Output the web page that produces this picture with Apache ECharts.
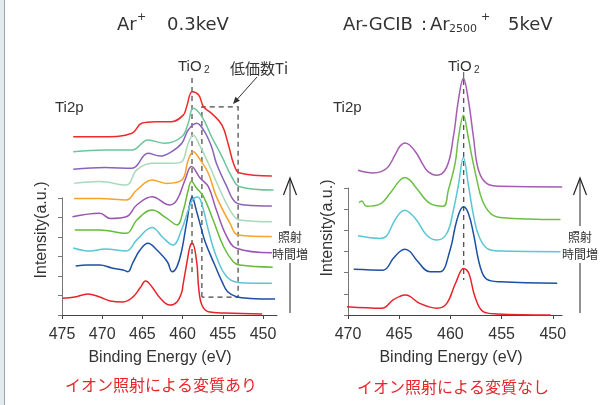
<!DOCTYPE html>
<html>
<head>
<meta charset="utf-8">
<script src="https://cdn.jsdelivr.net/npm/echarts@6/dist/echarts.min.js"></script>
<style>
html, body { margin: 0; padding: 0; background: #fff; }
#chart { width: 604px; height: 405px; }
</style>
</head>
<body>
<div id="chart"></div>
<script>
// tick labels
var leftTicks = [450, 455, 460, 465, 470, 475];
var rightTicks = [450, 455, 460, 465, 470];

// Ar+ 0.3keV : spectra from bottom (t0) to top (t9), [binding energy, intensity]
var ar_t0 = [[474.9,0.86],[473.4,0.92],[471.8,1.08],[470.3,0.92],[469.0,0.72],[467.4,0.67],[466.2,0.92],[465.3,1.38],[464.6,1.74],[463.8,1.44],[462.8,0.87],[461.6,0.51],[460.7,0.67],[460.1,1.18],[459.95,1.54],[459.45,2.72],[459.1,3.49],[458.8,3.69],[458.25,2.73],[458.0,1.38],[457.6,0.51],[456.8,0.17],[454.7,0.10],[450.1,0.05]];
var ar_t1 = [[473.3,2.51],[471.8,2.56],[470.3,2.56],[468.8,2.41],[467.4,2.31],[466.8,2.22],[466.2,2.67],[465.3,3.33],[464.3,3.68],[463.2,3.33],[461.9,2.73],[461.3,2.22],[460.7,2.48],[460.1,3.33],[459.5,4.72],[458.8,6.05],[458.3,5.38],[457.8,4.62],[457.2,3.76],[456.0,2.56],[455.1,1.71],[454.4,1.19],[453.3,0.94],[451.6,0.85],[448.5,0.82]];
var ar_t2 = [[473.6,3.44],[471.5,3.28],[469.65,3.38],[467.0,3.28],[465.7,3.85],[463.8,4.49],[462.4,3.95],[461.2,3.59],[460.1,4.41],[459.3,5.38],[458.7,5.95],[458.1,6.05],[457.5,5.54],[456.8,4.36],[455.8,2.99],[454.5,1.96],[452.9,1.66],[448.9,1.63]];
var ar_t3 = [[473.4,4.36],[470.3,4.36],[467.0,4.19],[465.7,4.87],[463.8,5.38],[462.0,4.97],[460.7,4.62],[459.9,5.38],[459.3,6.41],[458.9,6.84],[458.25,6.50],[457.4,6.07],[456.2,4.87],[454.9,3.50],[453.7,2.73],[452.9,2.56],[448.8,2.45]];
var ar_t4 = [[473.7,5.04],[470.3,5.22],[469.0,4.95],[467.0,5.04],[465.7,5.64],[463.8,6.07],[461.6,5.64],[460.7,5.90],[459.7,6.92],[458.9,7.61],[457.8,7.01],[456.8,6.58],[455.8,5.38],[454.5,4.02],[453.3,3.42],[448.9,3.19]];
var ar_t5 = [[473.5,5.98],[470.3,5.98],[467.0,5.90],[465.7,6.41],[463.8,6.92],[462.0,6.75],[460.1,6.92],[459.3,7.95],[458.7,8.37],[457.8,7.95],[456.8,7.27],[455.8,6.07],[454.1,4.70],[453.1,4.10],[448.9,4.02]];
var ar_t6 = [[473.5,6.75],[470.3,6.84],[467.0,6.67],[465.7,7.44],[463.8,7.78],[461.2,7.78],[460.1,7.86],[459.3,8.81],[458.7,9.23],[457.8,8.63],[456.8,7.78],[455.35,6.41],[454.1,5.38],[452.9,4.87],[448.9,4.78]];
var ar_t7 = [[473.6,7.47],[469.65,7.57],[466.3,7.52],[464.3,8.29],[462.8,8.15],[461.4,8.37],[460.1,8.81],[459.3,9.49],[458.25,9.83],[457.4,9.49],[456.4,8.63],[455.8,7.78],[454.5,6.58],[453.5,5.81],[452.2,5.64],[448.9,5.59]];
var ar_t8 = [[473.6,8.37],[469.65,8.46],[466.3,8.46],[464.3,8.97],[462.2,8.81],[460.1,9.14],[459.3,9.83],[458.7,10.60],[457.6,10.17],[456.4,9.14],[455.1,8.12],[453.9,7.09],[452.9,6.58],[448.7,6.41]];
var ar_t9 = [[473.6,9.14],[469.65,9.14],[466.3,9.32],[465.1,9.83],[463.4,9.91],[461.4,9.91],[459.9,10.26],[459.5,10.68],[458.8,11.45],[458.0,11.28],[457.4,10.68],[456.4,10.34],[455.1,9.74],[454.3,8.72],[453.6,7.69],[452.9,7.28],[448.9,7.13]];
var leftColors = ['#e8232a', '#1d4fa3', '#5ac6d6', '#66bb3a', '#9a55b0', '#f7a22b', '#a9d9b9', '#8a62b8', '#6cc59a', '#ee2a2a'];

// Ar-GCIB 5keV : spectra from bottom to top
var gc_t0 = [[470.1,0.39],[466.7,0.32],[465.6,0.71],[464.93,0.88],[464.44,0.94],[463.95,0.88],[463.0,0.55],[461.3,0.32],[460.35,0.55],[459.5,1.50],[458.7,2.20],[458.2,1.97],[457.6,0.86],[456.8,0.16],[455.45,0.05],[450.2,0.0]];
var gc_t1 = [[469.44,2.16],[466.57,2.12],[465.59,2.67],[464.93,3.00],[464.44,3.11],[463.95,3.00],[463.29,2.59],[461.99,2.04],[461.01,2.04],[460.03,3.07],[459.37,4.48],[458.73,5.11],[458.24,4.80],[457.75,3.85],[457.09,2.28],[456.43,1.68],[455.13,1.57],[449.57,1.50]];
var gc_t2 = [[469.02,3.74],[466.89,3.62],[466.24,3.73],[465.59,4.33],[464.93,4.82],[464.44,4.95],[463.95,4.82],[463.29,4.48],[462.31,3.77],[461.33,3.54],[460.35,3.85],[459.71,4.95],[459.22,6.13],[458.73,7.44],[458.24,6.13],[457.75,4.72],[457.25,3.77],[456.43,3.15],[455.13,3.02],[449.25,2.99]];
var gc_t3 = [[468.92,5.30],[468.66,5.38],[468.20,5.14],[466.89,5.24],[465.91,5.74],[464.93,6.37],[464.44,6.50],[463.95,6.37],[463.29,5.98],[461.99,5.27],[460.69,5.14],[460.20,5.90],[459.54,7.16],[459.22,8.35],[458.73,9.43],[458.24,8.35],[457.87,7.41],[457.41,6.37],[456.89,5.42],[456.10,4.81],[455.13,4.61],[449.25,4.51]];
var gc_t4 = [[469.02,6.84],[467.55,6.71],[466.24,6.92],[465.42,7.55],[464.93,7.97],[464.44,8.13],[463.95,8.02],[463.29,7.63],[462.65,7.08],[462.16,6.76],[461.33,6.60],[460.35,7.00],[459.71,8.41],[459.22,10.14],[458.73,11.17],[458.24,10.14],[457.75,8.41],[457.25,6.84],[456.43,6.21],[455.13,6.08],[449.08,6.05]];
var rightColors = ['#e8232a', '#1d4fa3', '#5ac6d6', '#6dbf45', '#a45db0'];

var leftSpectra = [ar_t0, ar_t1, ar_t2, ar_t3, ar_t4, ar_t5, ar_t6, ar_t7, ar_t8, ar_t9];
var rightSpectra = [gc_t0, gc_t1, gc_t2, gc_t3, gc_t4];

var FONT = 'Liberation Sans, Arial, sans-serif';
var WIDE = 'DejaVu Sans, sans-serif';
var JP = 'Noto Sans CJK JP, sans-serif';

var chart = echarts.init(document.getElementById('chart'));

function makeX(idx, min, max, ticks) {
    return {
        type: 'value', gridIndex: idx, min: min, max: max, inverse: true,
        axisLine: { lineStyle: { color: '#444', width: 1 } },
        axisTick: { customValues: ticks, length: 4, lineStyle: { color: '#444' } },
        axisLabel: { customValues: ticks, fontFamily: FONT, fontSize: 16, color: '#333', margin: 12 },
        splitLine: { show: false }
    };
}
function makeY(idx) {
    return {
        type: 'value', gridIndex: idx, min: 0, max: 6, interval: 1,
        axisLine: { show: true, lineStyle: { color: '#777', width: 1 } },
        axisTick: { show: true, length: 4, lineStyle: { color: '#777' } },
        axisLabel: { show: false },
        splitLine: { show: false }
    };
}
function makeLine(data, color, idx) {
    return {
        type: 'line', xAxisIndex: idx, yAxisIndex: idx, data: data,
        symbol: 'none', smooth: 0.4, clip: false, silent: true,
        lineStyle: { color: color, width: 1.5 }
    };
}

var series = [];
leftSpectra.forEach(function (d, i) { series.push(makeLine(d, leftColors[i], 0)); });
rightSpectra.forEach(function (d, i) { series.push(makeLine(d, rightColors[i], 1)); });

chart.setOption({
    animation: false,
    backgroundColor: '#fff',
    grid: [
        { left: 62, top: 198, width: 215, height: 117 },
        { left: 348, top: 188, width: 214, height: 127 }
    ],
    xAxis: [makeX(0, 448.26, 475, leftTicks), makeX(1, 449.1, 470, rightTicks)],
    yAxis: [makeY(0), makeY(1)],
    series: series
});

function txt(x, y, s, size, extra) {
    var o = {
        type: 'text', x: x, y: y, silent: true,
        style: {
            text: s, fontSize: size, fontFamily: FONT, fill: '#333',
            textAlign: 'left', textVerticalAlign: 'middle', align: 'left', verticalAlign: 'middle'
        }
    };
    if (extra) {
        for (var k in extra) {
            if (k === 'rotation') o.rotation = extra[k];
            else { o.style[k] = extra[k]; }
        }
        if (extra.textAlign) o.style.align = extra.textAlign;
    }
    return o;
}
function seg(p1, p2, dashed, color) {
    return {
        type: 'line', silent: true,
        shape: { x1: p1[0], y1: p1[1], x2: p2[0], y2: p2[1] },
        style: { stroke: color || '#444', lineWidth: dashed ? 1.2 : 1, lineDash: dashed ? [5, 4] : null }
    };
}
function px(idx, e, v) { return chart.convertToPixel({ gridIndex: idx }, [e, v]); }

var g = [];
// left page edge
g.push({ type: 'rect', shape: { x: 0, y: 0, width: 4, height: 405 }, style: { fill: '#e3ebee' }, silent: true });
g.push(seg([4.5, 0], [4.5, 405], false, '#9aa6aa'));

// titles
g.push(txt(117, 25, 'Ar', 18, { fontFamily: WIDE }));
g.push(txt(137, 17, '+', 11, { fontFamily: WIDE }));
g.push(txt(167, 25, '0.3keV', 18, { fontFamily: WIDE }));
g.push(txt(343, 25, 'Ar-GCIB', 18, { fontFamily: WIDE }));
g.push(txt(421, 25, ':', 18, { fontFamily: WIDE }));
g.push(txt(430, 25, 'Ar', 18, { fontFamily: WIDE }));
g.push(txt(449, 29, '2500', 11, { fontFamily: WIDE }));
g.push(txt(481, 17, '+', 11, { fontFamily: WIDE }));
g.push(txt(508, 25, '5keV', 18, { fontFamily: WIDE }));

// Ti2p labels
g.push(txt(55, 108, 'Ti2p', 15));
g.push(txt(333, 108, 'Ti2p', 15));

// TiO2 labels
g.push(txt(178, 67, 'TiO', 15));
g.push(txt(204, 70, '2', 10));
g.push(txt(448, 67, 'TiO', 15));
g.push(txt(474, 70, '2', 10));

// 低価数Ti label and arrow
g.push(txt(230, 68, '低価数Ti', 15, { fontFamily: JP }));
var tail = [257, 77], tip = [233, 104];
var dx = tip[0] - tail[0], dy = tip[1] - tail[1], L = Math.sqrt(dx * dx + dy * dy);
var ux = dx / L, uy = dy / L;
g.push(seg(tail, [tip[0] - ux * 5, tip[1] - uy * 5], false, '#333'));
g.push({
    type: 'polygon', silent: true,
    shape: { points: [tip, [tip[0] - ux * 7 + uy * 3, tip[1] - uy * 7 - ux * 3], [tip[0] - ux * 7 - uy * 3, tip[1] - uy * 7 + ux * 3]] },
    style: { fill: '#333' }
});

// TiO2 dashed reference lines
g.push(seg(px(0, 458.83, 12.15), px(0, 458.83, 2.0), true));
var rTop = px(1, 458.7, 11.1);
g.push(seg([rTop[0], rTop[1] - 8], rTop, false, '#444'));
g.push(seg(rTop, px(1, 458.7, 1.65), true));

// low-valence Ti box (dashed)
var b1 = px(0, 457.6, 10.67), b2 = px(0, 453.1, 0.92);
g.push({
    type: 'polyline', silent: true,
    shape: { points: [[b1[0], b2[1]], [b1[0], b1[1]], [b2[0], b1[1]], [b2[0], b2[1]], [b1[0], b2[1]]] },
    style: { stroke: '#444', lineWidth: 1.2, lineDash: [5, 4], fill: null }
});

// irradiation time arrows
function timeArrow(x) {
    g.push(seg([x, 313], [x, 263], false, '#222'));
    g.push(seg([x, 226], [x, 179], false, '#222'));
    g.push({ type: 'polyline', silent: true, shape: { points: [[x - 6.5, 195], [x, 178], [x + 6.5, 195]] }, style: { stroke: '#222', lineWidth: 1.2, fill: null } });
    g.push(txt(x, 237, '照射', 12, { fontFamily: JP, textAlign: 'center' }));
    g.push(txt(x, 254, '時間増', 12, { fontFamily: JP, textAlign: 'center' }));
}
timeArrow(290);
timeArrow(580);

// axis names
g.push(txt(42, 230, 'Intensity(a.u.)', 16, { textAlign: 'center', rotation: Math.PI / 2 }));
g.push(txt(328, 228, 'Intensity(a.u.)', 16, { textAlign: 'center', rotation: Math.PI / 2 }));
g.push(txt(160, 358, 'Binding Energy (eV)', 16, { textAlign: 'center' }));
g.push(txt(451, 358, 'Binding Energy (eV)', 16, { textAlign: 'center' }));

// captions
g.push(txt(161, 385, 'イオン照射による変質あり', 16, { fontFamily: JP, textAlign: 'center', fill: '#e8252b' }));
g.push(txt(453, 387, 'イオン照射による変質なし', 16, { fontFamily: JP, textAlign: 'center', fill: '#e8252b' }));

chart.setOption({ graphic: g });
</script>
</body>
</html>
